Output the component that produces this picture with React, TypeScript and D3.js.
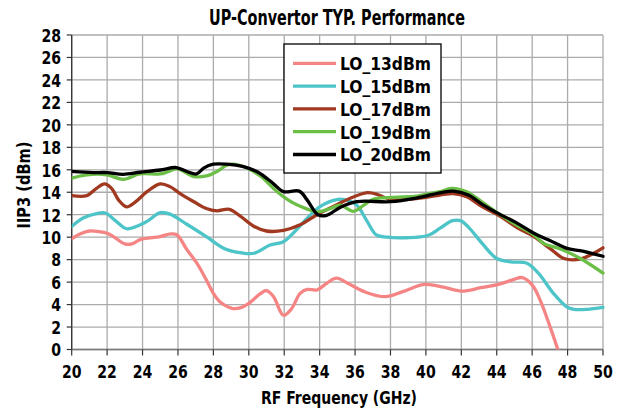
import React from "react";
import * as d3 from "d3";

const seriesNames = ["LO_13dBm", "LO_15dBm", "LO_17dBm", "LO_19dBm", "LO_20dBm"];
const seriesColors = ["#f58585", "#4cc4c8", "#a0391f", "#6cbf46", "#000000"];

const lo13Freq = [20, 20.5, 21.0, 21.5, 22.0, 22.4, 23.0, 23.4, 23.9, 25.0, 25.6, 25.95, 26.5, 27.1, 27.6, 28.0, 28.4, 29.1, 29.6, 30.0, 30.6, 31.0, 31.4, 31.95, 32.4, 32.9, 33.3, 33.85, 34.4, 34.95, 35.7, 36.6, 37.7, 38.7, 39.9, 41.0, 42.0, 43.1, 44.1, 44.9, 45.45, 46.0, 46.45, 46.95, 47.45];
const lo13Iip3 = [9.85, 10.3, 10.55, 10.5, 10.35, 10.0, 9.4, 9.4, 9.8, 10.05, 10.3, 10.2, 8.9, 7.6, 6.2, 5.0, 4.2, 3.65, 3.75, 4.1, 4.9, 5.25, 4.7, 3.05, 3.6, 5.0, 5.35, 5.3, 5.9, 6.35, 5.8, 5.1, 4.7, 5.15, 5.8, 5.55, 5.2, 5.5, 5.8, 6.2, 6.4, 5.75, 4.4, 2.3, 0];

const lo15Freq = [20, 20.65, 21.4, 21.9, 22.45, 23.1, 23.65, 24.3, 25.0, 25.55, 26.5, 27.6, 28.6, 29.6, 30.3, 31.2, 31.95, 32.5, 33.3, 34.0, 34.95, 35.5, 36.1, 36.65, 37.2, 37.8, 38.9, 40.1, 40.85, 41.5, 41.95, 42.4, 43.2, 44.0, 44.8, 45.7, 46.35, 47.2, 47.95, 48.35, 49.1, 50];
const lo15Iip3 = [10.95, 11.7, 12.1, 12.15, 11.5, 10.75, 10.95, 11.45, 12.18, 12.05, 11.15, 10.05, 9.0, 8.6, 8.57, 9.3, 9.6, 10.35, 11.7, 12.7, 13.35, 13.3, 12.85, 11.5, 10.2, 10.0, 9.95, 10.15, 10.85, 11.47, 11.47, 10.9, 9.4, 8.1, 7.8, 7.68, 6.8, 5.0, 3.8, 3.58, 3.58, 3.75];

const lo17Freq = [20, 20.85, 21.4, 21.85, 22.25, 22.65, 23.1, 23.6, 24.25, 25.0, 25.55, 26.1, 26.9, 27.6, 28.2, 28.9, 29.5, 30.25, 31.0, 31.95, 32.9, 33.8, 34.8, 35.7, 36.7, 37.3, 38.0, 38.9, 40.0, 40.8, 41.55, 42.3, 43.2, 44.2, 45.1, 46.1, 47.0, 47.8, 48.7, 49.45, 50];
const lo17Iip3 = [13.7, 13.7, 14.35, 14.75, 14.35, 13.3, 12.7, 13.15, 14.05, 14.75, 14.5, 13.9, 13.15, 12.55, 12.35, 12.48, 11.9, 11.0, 10.55, 10.6, 11.1, 11.95, 12.75, 13.45, 13.96, 13.78, 13.35, 13.35, 13.55, 13.75, 13.88, 13.6, 12.7, 11.85, 10.9, 10.05, 9.0, 8.1, 8.05, 8.55, 9.05];

const lo19Freq = [20, 20.85, 22.0, 22.9, 23.85, 25.0, 25.4, 25.95, 26.5, 26.9, 27.6, 28.2, 28.75, 29.15, 29.9, 30.65, 31.6, 32.5, 33.3, 33.85, 34.6, 35.15, 35.9, 36.5, 37.05, 38.2, 39.5, 40.25, 40.8, 41.45, 42.3, 43.2, 44.2, 45.1, 46.1, 46.65, 47.6, 48.7, 50];
const lo19Iip3 = [15.25, 15.55, 15.55, 15.15, 15.63, 15.63, 15.8, 16.1, 15.7, 15.4, 15.45, 15.85, 16.4, 16.5, 16.15, 15.45, 14.05, 13.05, 12.5, 12.25, 12.55, 12.85, 12.3, 12.85, 13.4, 13.55, 13.65, 13.9, 14.05, 14.35, 14.05, 13.1, 12.0, 11.1, 10.2, 9.45, 8.95, 8.12, 6.8];

const lo20Freq = [20, 21.2, 22.0, 22.9, 23.85, 25.0, 25.9, 26.5, 27.05, 27.45, 28.0, 28.75, 29.7, 30.5, 31.4, 31.95, 32.85, 33.3, 33.9, 34.4, 35.15, 36.1, 38.0, 39.5, 40.8, 41.55, 42.4, 43.2, 44.1, 45.1, 46.1, 47.0, 47.97, 48.7, 50];
const lo20Iip3 = [15.85, 15.75, 15.75, 15.6, 15.78, 15.98, 16.2, 15.85, 15.63, 16.15, 16.5, 16.5, 16.28, 15.8, 14.75, 14.05, 14.1, 13.3, 12.0, 11.95, 12.65, 13.16, 13.16, 13.5, 13.95, 14.1, 13.75, 12.9, 12.1, 11.3, 10.35, 9.7, 9.0, 8.8, 8.3];

const xTicks = [20, 22, 24, 26, 28, 30, 32, 34, 36, 38, 40, 42, 44, 46, 48, 50];
const yTicks = [0, 2, 4, 6, 8, 10, 12, 14, 16, 18, 20, 22, 24, 26, 28];

const titleText = "UP-Convertor TYP. Performance";
const xTitle = "RF Frequency (GHz)";
const yTitle = "IIP3 (dBm)";

const FONT = "'DejaVu Sans Condensed', 'DejaVu Sans', sans-serif";
const DIGIT_W = 9.8;

export default function App() {
  const W = 624, H = 415;
  const left = 71.7, right = 603, top = 35, bottom = 349.5;
  const x = d3.scaleLinear().domain([20, 50]).range([left, right]);
  const y = d3.scaleLinear().domain([0, 28]).range([bottom, top]);

  const freqs = [lo13Freq, lo15Freq, lo17Freq, lo19Freq, lo20Freq];
  const vals = [lo13Iip3, lo15Iip3, lo17Iip3, lo19Iip3, lo20Iip3];

  const line = d3
    .line<[number, number]>()
    .x((d) => x(d[0]))
    .y((d) => y(d[1]))
    .curve(d3.curveCatmullRom.alpha(0.5));

  const legX = 284, legY = 44, legW = 157, legH = 129;

  return (
    <svg
      width={W}
      height={H}
      style={{ position: "absolute", left: 0, top: 0, background: "#fff" }}
      fontFamily={FONT}
      fontWeight="bold"
    >
      <rect x={0} y={0} width={W} height={H} fill="#fff" />
      {/* grid */}
      {yTicks.map((t) => (
        <line key={"gy" + t} x1={left} x2={right} y1={y(t)} y2={y(t)} stroke="#ababab" strokeWidth={1.3} />
      ))}
      {xTicks.map((t) => (
        <line key={"gx" + t} x1={x(t)} x2={x(t)} y1={top} y2={bottom} stroke="#ababab" strokeWidth={1.3} />
      ))}
      {/* axes */}
      <line x1={left} x2={left} y1={top} y2={bottom} stroke="#333" strokeWidth={1.3} />
      <line x1={left} x2={right} y1={bottom} y2={bottom} stroke="#7a7a7a" strokeWidth={1.5} />
      {yTicks.map((t) => (
        <line key={"ty" + t} x1={left - 5} x2={left} y1={y(t)} y2={y(t)} stroke="#333" strokeWidth={1.2} />
      ))}
      {xTicks.map((t) => (
        <line key={"tx" + t} x1={x(t)} x2={x(t)} y1={bottom} y2={bottom + 6} stroke="#333" strokeWidth={1.2} />
      ))}
      {/* tick labels */}
      {yTicks.map((t) => (
        <text
          key={"ly" + t}
          x={61}
          y={y(t)}
          dy="0.37em"
          textAnchor="end"
          fontSize={18.5}
          fill="#000"
          textLength={String(t).length * DIGIT_W}
          lengthAdjust="spacingAndGlyphs"
        >
          {t}
        </text>
      ))}
      {xTicks.map((t) => (
        <text
          key={"lx" + t}
          x={x(t)}
          y={378}
          textAnchor="middle"
          fontSize={18.5}
          fill="#000"
          textLength={String(t).length * DIGIT_W}
          lengthAdjust="spacingAndGlyphs"
        >
          {t}
        </text>
      ))}
      {/* series */}
      <defs>
        <clipPath id="plotclip">
          <rect x={left} y={top - 5} width={right - left + 3} height={bottom - top + 5} />
        </clipPath>
      </defs>
      <g clipPath="url(#plotclip)">
        {vals.map((v, i) => (
          <path
            key={seriesNames[i]}
            d={line(freqs[i].map((f, j) => [f, v[j]] as [number, number])) || ""}
            fill="none"
            stroke={seriesColors[i]}
            strokeWidth={3.3}
            strokeLinejoin="round"
            strokeLinecap="round"
          />
        ))}
      </g>
      {/* legend */}
      <rect x={legX} y={legY} width={legW} height={legH} fill="#fff" stroke="#000" strokeWidth={1.3} />
      {seriesNames.map((n, i) => {
        const ly = 63.3 + i * 22.8;
        return (
          <g key={"leg" + n}>
            <line x1={293} x2={336} y1={ly} y2={ly} stroke={seriesColors[i]} strokeWidth={3.3} />
            <text
              x={340}
              y={ly}
              dy="0.37em"
              fontSize={18.5}
              fill="#000"
              textLength={91}
              lengthAdjust="spacingAndGlyphs"
            >
              {n}
            </text>
          </g>
        );
      })}
      {/* titles */}
      <text x={337} y={25} textAnchor="middle" fontSize={21} fill="#000" textLength={256} lengthAdjust="spacingAndGlyphs">
        {titleText}
      </text>
      <text x={339} y={404} textAnchor="middle" fontSize={18.5} fill="#000" textLength={156} lengthAdjust="spacingAndGlyphs">
        {xTitle}
      </text>
      <text
        transform="translate(30,185) rotate(-90)"
        textAnchor="middle"
        fontSize={18.5}
        fill="#000"
        textLength={87}
        lengthAdjust="spacingAndGlyphs"
      >
        {yTitle}
      </text>
    </svg>
  );
}
